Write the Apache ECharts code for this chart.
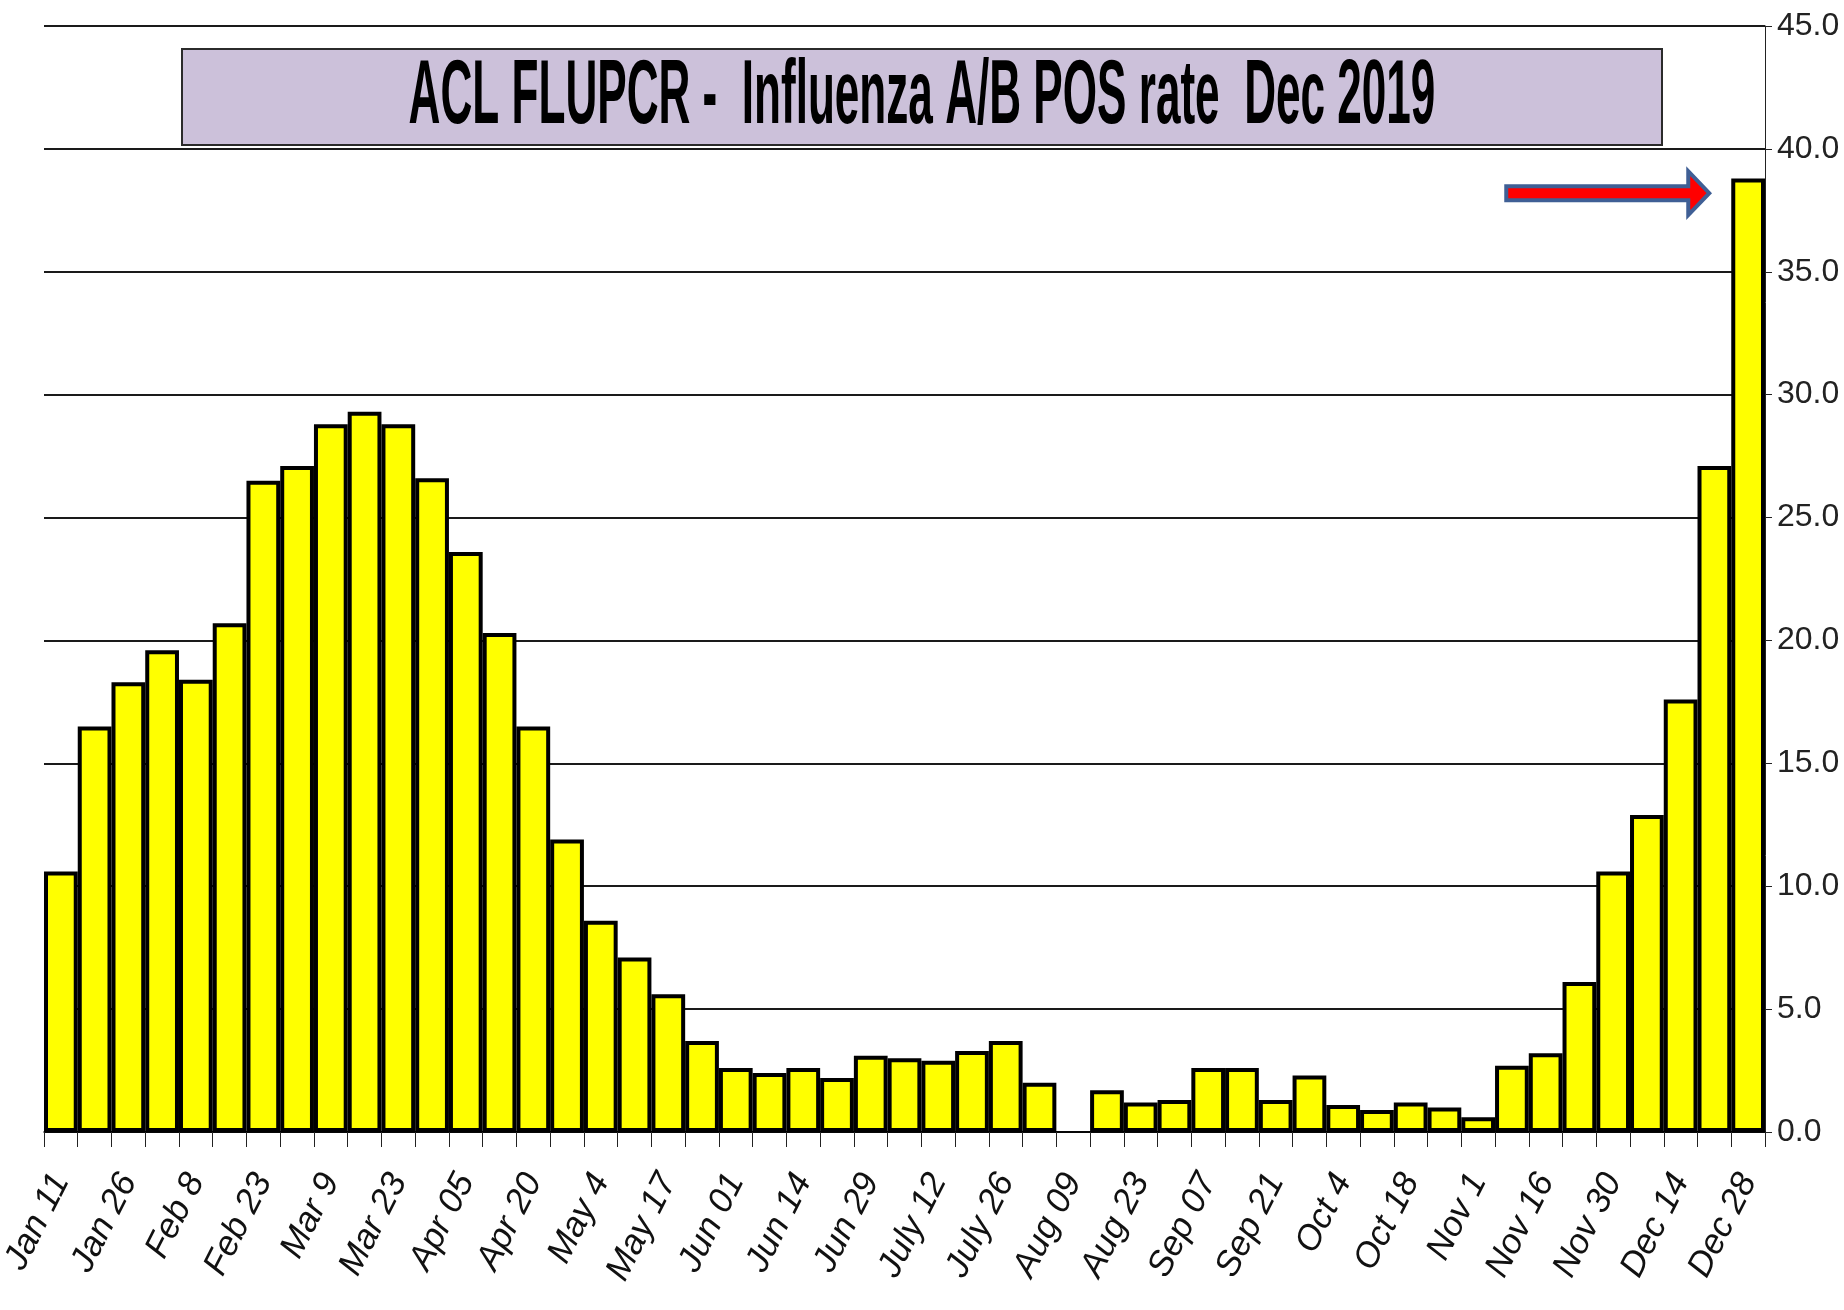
<!DOCTYPE html>
<html>
<head>
<meta charset="utf-8">
<title>ACL FLUPCR - Influenza A/B POS rate Dec 2019</title>
<script src="https://cdn.jsdelivr.net/npm/echarts@6/dist/echarts.min.js"></script>
<style>
  html, body { margin: 0; padding: 0; background: #fff; }
  #chart { width: 1844px; height: 1310px; }
</style>
</head>
<body>
<div id="chart"></div>
<script>
// tick labels under every other week (bars in between have no label)
const weekLabels = [
  "Jan 11", "Jan 26", "Feb 8", "Feb 23", "Mar 9", "Mar 23", "Apr 05", "Apr 20",
  "May 4", "May 17", "Jun 01", "Jun 14", "Jun 29", "July 12", "July 26", "Aug 09",
  "Aug 23", "Sep 07", "Sep 21", "Oct 4", "Oct 18", "Nov 1", "Nov 16", "Nov 30",
  "Dec 14", "Dec 28"
]

// weekly POS rate (%), Aug 09 week has no bar
const posRate = [
  10.6, 16.5, 18.3, 19.6, 18.4, 20.7, 26.5, 27.1, 28.8, 29.3,
  28.8, 26.6, 23.6, 20.3, 16.5, 11.9, 8.6, 7.1, 5.6, 3.7,
  2.6, 2.4, 2.6, 2.2, 3.1, 3.0, 2.9, 3.3, 3.7, 2.0,
  null, 1.7, 1.2, 1.3, 2.6, 2.6, 1.3, 2.3, 1.1, 0.9,
  1.2, 1.0, 0.6, 2.7, 3.2, 6.1, 10.6, 12.9, 17.6, 27.1,
  38.8
]

const titleText = "ACL FLUPCR -  Influenza A/B POS rate  Dec 2019"
const arrowValue = 38.2

const categories = posRate.map((v, i) => (i % 2 === 0 ? weekLabels[i / 2] : ""))

const labelFont = "'Liberation Sans', Arial, sans-serif"

const chart = echarts.init(document.getElementById("chart"))

const option = {
  backgroundColor: "#ffffff",
  animation: false,
  grid: {
    left: 44,
    right: 79,
    top: 26,
    bottom: 178,
    outerBoundsMode: "none"
  },
  xAxis: {
    type: "category",
    data: categories,
    axisLine: {
      show: true,
      lineStyle: { color: "#000", width: 1.5 }
    },
    axisTick: {
      show: true,
      interval: 0,
      length: 15,
      lineStyle: { color: "#222", width: 1 }
    },
    axisLabel: {
      interval: 0,
      rotate: 63,
      margin: 44,
      color: "#111",
      fontSize: 35,
      fontStyle: "italic",
      fontFamily: labelFont
    }
  },
  yAxis: {
    type: "value",
    position: "right",
    min: 0,
    max: 45,
    interval: 5,
    axisLine: {
      show: true,
      lineStyle: { color: "#222", width: 1 }
    },
    axisTick: {
      show: true,
      length: 7,
      lineStyle: { color: "#222", width: 1 }
    },
    axisLabel: {
      margin: 12,
      color: "#222",
      fontSize: 32,
      fontFamily: labelFont,
      formatter: (v) => v.toFixed(1)
    },
    splitLine: {
      show: true,
      lineStyle: { color: "#1a1a1a", width: 2 }
    }
  },
  series: [
    {
      type: "bar",
      data: posRate,
      barCategoryGap: "0%",
      itemStyle: {
        color: "#ffff00",
        borderColor: "#000",
        borderWidth: 4
      }
    }
  ],
  graphic: [
    {
      id: "titleBox",
      type: "rect",
      shape: { x: 182, y: 49, width: 1480, height: 96 },
      style: { fill: "#ccc1da", stroke: "#2b2b2b", lineWidth: 2 },
      z: 10
    },
    {
      id: "titleText",
      type: "text",
      x: 922,
      y: 98,
      scaleX: 0.49,
      z: 11,
      style: {
        text: titleText,
        align: "center",
        verticalAlign: "middle",
        fill: "#000",
        font: "bold 90px 'Liberation Sans', Arial, sans-serif"
      }
    }
  ]
}

chart.setOption(option)

// arrow pointing at the last (highest) week
const last = posRate.length - 1
const pLast = chart.convertToPixel({ seriesIndex: 0 }, [last, arrowValue])
const pPrev = chart.convertToPixel({ seriesIndex: 0 }, [last - 1, arrowValue])
const band = pLast[0] - pPrev[0]
const tipX = pLast[0] - band / 2 - 22
const tipY = pLast[1]
const headBase = tipX - 21
const tailX = tipX - 203
chart.setOption({
  graphic: [
    {
      id: "arrow",
      type: "polygon",
      z: 12,
      shape: {
        points: [
          [tailX, tipY - 7],
          [headBase, tipY - 7],
          [headBase, tipY - 22],
          [tipX, tipY],
          [headBase, tipY + 22],
          [headBase, tipY + 7],
          [tailX, tipY + 7]
        ]
      },
      style: { fill: "#ff0000", stroke: "#3f5f95", lineWidth: 4 }
    }
  ]
})
</script>
</body>
</html>
